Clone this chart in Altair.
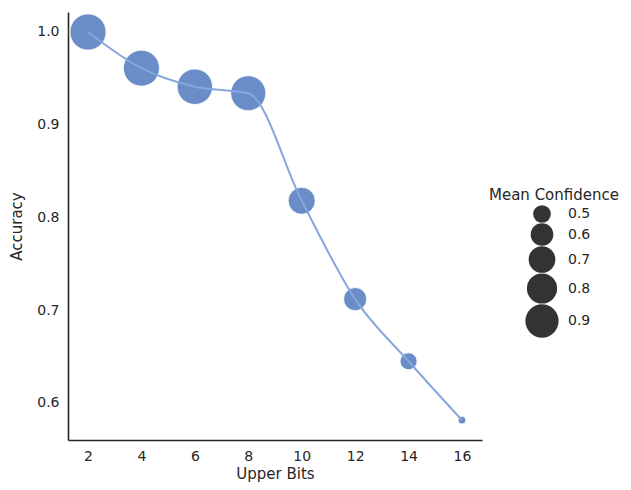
import altair as alt
import pandas as pd

upper_bits = [2, 4, 6, 8, 10, 12, 14, 16]
accuracy = [1.000, 0.961, 0.941, 0.934, 0.818, 0.712, 0.645, 0.5815]
mean_conf = [1.000, 0.995, 0.975, 0.960, 0.710, 0.610, 0.488, 0.372]
legend_values = [0.5, 0.6, 0.7, 0.8, 0.9]
x_ticks = [2, 4, 6, 8, 10, 12, 14, 16]
y_ticks = [0.6, 0.7, 0.8, 0.9, 1.0]

df = pd.DataFrame({"Upper Bits": upper_bits, "Accuracy": accuracy,
                   "Mean Confidence": mean_conf, "series": ["acc"] * len(upper_bits)})

FONT = "DejaVu Sans"
TXT = "#262626"

x_enc = alt.X("Upper Bits:Q",
              scale=alt.Scale(domain=[1.2512, 16.749], nice=False, zero=False),
              axis=alt.Axis(values=x_ticks, title="Upper Bits", format="d"))
y_enc = alt.Y("Accuracy:Q",
              scale=alt.Scale(domain=[0.5601, 1.02156], nice=False, zero=False),
              axis=alt.Axis(values=y_ticks, title="Accuracy", format=".1f"))

points = alt.Chart(df).mark_circle(opacity=1, stroke="white", strokeWidth=0.8).encode(
    x=x_enc,
    y=y_enc,
    color=alt.Color("series:N", scale=alt.Scale(range=["#6a8dc8"]), legend=None),
    size=alt.Size("Mean Confidence:Q",
                  scale=alt.Scale(domain=[0.37, 1.0], range=[55, 1308], zero=False),
                  legend=alt.Legend(values=legend_values, format=".1f", title="Mean Confidence",
                                    orient="none", legendX=421, legendY=176,
                                    symbolFillColor="#333333", symbolStrokeColor="#333333",
                                    symbolStrokeWidth=0, symbolOpacity=1,
                                    symbolOffset=36, labelOffset=9,
                                    rowPadding=0, padding=0,
                                    titleFontSize=15, titleFontWeight="normal", titleColor=TXT,
                                    titleFont=FONT, titlePadding=2,
                                    labelFontSize=14, labelColor=TXT, labelFont=FONT)),
)

line = alt.Chart(df).mark_line(color="#86a6de", strokeWidth=2, interpolate="monotone").encode(
    x="Upper Bits:Q", y="Accuracy:Q"
)

chart = alt.layer(points, line).properties(
    width=414, height=428,
    autosize=alt.AutoSizeParams(type="none"),
    padding={"left": 68, "top": 12, "right": 149, "bottom": 50},
).configure_view(stroke=None).configure_axis(
    grid=False, ticks=False, domainColor=TXT, domainWidth=1.6,
    labelFont=FONT, labelFontSize=14, labelColor=TXT, labelPadding=9,
    titleFont=FONT, titleFontSize=15, titleFontWeight="normal", titleColor=TXT,
).configure_axisX(titlePadding=3).configure_axisY(titlePadding=12)

chart.save("out.html", embed_options={"renderer": "svg", "actions": False})
